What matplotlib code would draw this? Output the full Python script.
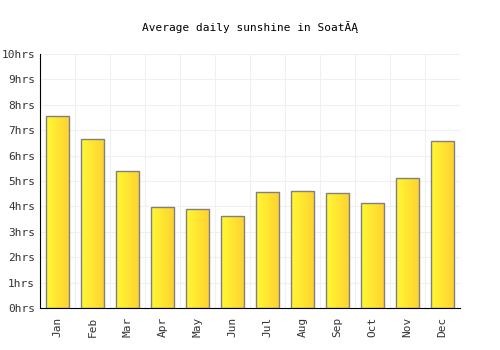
import numpy as np
import matplotlib.pyplot as plt
from matplotlib.colors import LinearSegmentedColormap

months = ['Jan', 'Feb', 'Mar', 'Apr', 'May', 'Jun', 'Jul', 'Aug', 'Sep', 'Oct', 'Nov', 'Dec']
sunshine = [7.56, 6.65, 5.39, 3.98, 3.9, 3.62, 4.57, 4.6, 4.53, 4.13, 5.12, 6.57]
yticks = np.arange(0, 11)
ylabels = ['%dhrs' % v for v in yticks]

plt.rcParams['font.family'] = ['DejaVu Sans Mono']

fig = plt.figure(figsize=(5, 3.5), dpi=100)
ax = fig.add_axes([0.08, 0.12, 0.84, 0.726])

x = np.arange(len(months))
bars = ax.bar(x, sunshine, width=0.68, color='none', edgecolor='#808080', linewidth=1, zorder=3)

# horizontal gradient fill, clipped to each bar
cmap = LinearSegmentedColormap.from_list('sun', ['#fff833', '#ffd030'])
grad = np.linspace(0, 1, 64).reshape(1, -1)
for b in bars:
    x0, y0 = b.get_x(), b.get_y()
    im = ax.imshow(grad, cmap=cmap, extent=[x0, x0 + b.get_width(), y0, y0 + b.get_height()],
                   aspect='auto', zorder=2, interpolation='bicubic')
    im.set_clip_path(b)

ax.set_xlim(-0.5, len(months) - 0.5)
ax.set_ylim(0, 10)
ax.set_xticks(x)
ax.set_xticklabels(months, rotation=90, fontsize=8, color='#333333')
ax.set_yticks(yticks)
ax.set_yticklabels(ylabels, fontsize=8, color='#333333')
ax.set_xticks(np.arange(-0.5, len(months), 1), minor=True)
ax.tick_params(which='both', length=0)
ax.tick_params(axis='x', pad=6)
ax.grid(False)
ax.grid(axis='x', which='minor', color='#f0f0f0', linewidth=0.8, zorder=0)
ax.grid(axis='y', which='major', color='#f0f0f0', linewidth=0.8, zorder=0)
ax.set_axisbelow(True)
for s in ['top', 'right']:
    ax.spines[s].set_visible(False)
ax.spines['left'].set_color('black')
ax.spines['bottom'].set_color('black')

fig.text(0.5, 0.922, 'Average daily sunshine in SoatĂĄ', ha='center', va='center', fontsize=8)

plt.savefig('out.png', dpi=100)
